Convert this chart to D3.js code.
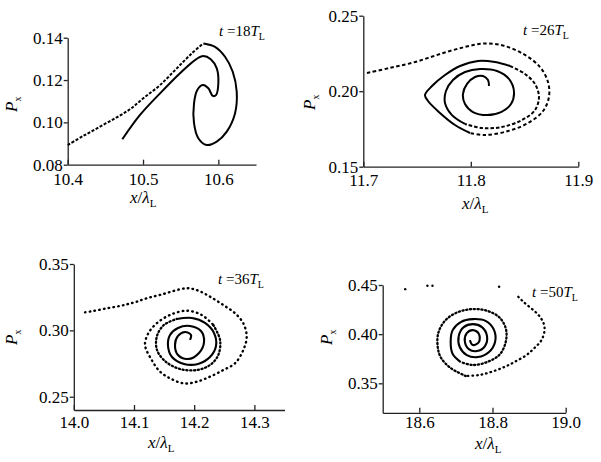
<!DOCTYPE html>
<html>
<head>
<meta charset="utf-8">
<script src="https://cdn.jsdelivr.net/npm/d3@7"></script>
<style>
body { margin: 0; background: #fff; }
text { font-family: "Liberation Serif", "Times New Roman", serif; fill: #000; }
</style>
</head>
<body>
<div id="chart"></div>
<script>
// snapshot times (in T_L)
var times = ["18", "26", "36", "50"];

// tick values
var p1XTicks = [10.4, 10.5, 10.6], p1YTicks = [0.08, 0.10, 0.12, 0.14];
var p2XTicks = [11.7, 11.8, 11.9], p2YTicks = [0.15, 0.20, 0.25];
var p3XTicks = [14.0, 14.1, 14.2, 14.3], p3YTicks = [0.25, 0.30, 0.35];
var p4XTicks = [18.6, 18.8, 19.0], p4YTicks = [0.35, 0.40, 0.45];

// t = 18 T_L : [x/lambda, Px]
var p1Arm = [[10.4,0.0893],[10.4207,0.0936],[10.4429,0.0980],[10.4651,0.1024],[10.4827,0.1062],
  [10.5004,0.1114],[10.5226,0.1176],[10.5448,0.1255],[10.5647,0.1326],[10.5801,0.1373]];
var p1Curl = [[10.5801,0.1373],[10.5956,0.1357],[10.6089,0.1310],[10.6191,0.1239],[10.6244,0.1145],
  [10.6222,0.1043],[10.6112,0.0956],[10.5979,0.0909],[10.5846,0.0893],[10.5734,0.0925],[10.5677,0.0996],
  [10.5677,0.1090],[10.5721,0.1153],[10.5793,0.1176],[10.5867,0.1161],[10.5926,0.1125],[10.5969,0.1129],
  [10.6000,0.1185],[10.5979,0.1255],[10.5899,0.1298],[10.5801,0.1313],[10.5704,0.1298],[10.5491,0.1232],
  [10.5226,0.1137],[10.4960,0.1035],[10.4725,0.0920]];

// t = 26 T_L
var p2Outer = [[11.7034,0.2121],[11.7248,0.2154],[11.7481,0.2193],[11.7713,0.2246],[11.7946,0.2293],
  [11.8132,0.2316],[11.8318,0.2299],[11.8504,0.2240],[11.8644,0.2160],[11.8718,0.2061],[11.8727,0.1962],
  [11.8672,0.1869],[11.8532,0.1789],[11.8346,0.1736],[11.8132,0.1710],[11.7993,0.1723]];
var p2Ring = [[11.7993,0.1723],[11.7853,0.1776],[11.7713,0.1856],[11.7602,0.1935],[11.7574,0.1975],
  [11.7639,0.2034],[11.7760,0.2107],[11.7900,0.2167],[11.8067,0.2200],[11.8225,0.2193],[11.8365,0.2167]];
var p2Mid = [[11.8365,0.2167],[11.8504,0.2114],[11.8597,0.2048],[11.8634,0.1962],[11.8597,0.1875],
  [11.8476,0.1809],[11.8290,0.1763],[11.8104,0.1756],[11.7946,0.1783]];
var p2Core = [[11.7946,0.1783],[11.7825,0.1842],[11.7760,0.1922],[11.7769,0.2001],[11.7834,0.2074],
  [11.7946,0.2127],[11.8086,0.2147],[11.8244,0.2134],[11.8355,0.2081],[11.8402,0.1995],[11.8374,0.1915],
  [11.8281,0.1862],[11.8151,0.1842],[11.8020,0.1862],[11.7946,0.1915],[11.7927,0.1981],[11.7965,0.2048],
  [11.8039,0.2094],[11.8113,0.2101],[11.8160,0.2074],[11.8169,0.2034]];

// t = 36 T_L
var p3Arm = [[14.0186,0.3136],[14.0324,0.3146],[14.0547,0.3166],[14.0767,0.3184],[14.0905,0.3199],
  [14.1045,0.3216],[14.1211,0.3242],[14.1432,0.3267],[14.1875,0.3317],[14.2068,0.3299],[14.2262,0.3254],
  [14.2483,0.3191],[14.2678,0.3129],[14.2816,0.3053],[14.2872,0.2952],[14.2816,0.2852],[14.2678,0.2752],
  [14.2483,0.2701],[14.2262,0.2651],[14.2042,0.2613],[14.1819,0.2601],[14.1598,0.2639],[14.1432,0.2689],
  [14.1294,0.2777],[14.1183,0.2890],[14.1238,0.2978],[14.1377,0.3053],[14.1598,0.3116],[14.1875,0.3148],
  [14.2125,0.3116],[14.2317,0.3041]];
var p3Mid = [[14.2317,0.3041],[14.2429,0.2928],[14.2400,0.2814],[14.2262,0.2739],[14.2042,0.2701],
  [14.1764,0.2709],[14.1532,0.2762],[14.1382,0.2852],[14.1382,0.2958],[14.1498,0.3041],[14.1709,0.3086]];
var p3Core = [[14.1709,0.3086],[14.1963,0.3093],[14.2179,0.3056],[14.2329,0.2980],[14.2362,0.2882],
  [14.2262,0.2799],[14.2063,0.2747],[14.1831,0.2747],[14.1631,0.2799],[14.1565,0.2882],[14.1598,0.2965],
  [14.1731,0.3018],[14.1930,0.3033],[14.2113,0.2995],[14.2163,0.2912],[14.2080,0.2830],[14.1897,0.2784],
  [14.1731,0.2814],[14.1681,0.2890],[14.1731,0.2958],[14.1847,0.2988],[14.1947,0.2965],[14.1930,0.2928]];

// t = 50 T_L
var p4Stray = [[18.5615,0.4458],[18.6222,0.4492],[18.6360,0.4492],[18.8181,0.4482]];
var p4Outer = [[18.8705,0.4380],[18.8843,0.4329],[18.9257,0.4194],[18.9394,0.4113],[18.9422,0.4041],
  [18.9339,0.3940],[18.9146,0.3859],[18.8926,0.3787],[18.8594,0.3716],[18.8319,0.3665],[18.7960,0.3615],
  [18.7629,0.3584],[18.7270,0.3574]];
var p4Ring = [[18.7270,0.3574],[18.6857,0.3655],[18.6581,0.3767],[18.6498,0.3889],[18.6526,0.4021],
  [18.6719,0.4143],[18.7050,0.4224],[18.7463,0.4255],[18.7877,0.4235],[18.8208,0.4163],[18.8374,0.4041],
  [18.8346,0.3899],[18.8181,0.3787],[18.7850,0.3716],[18.7463,0.3686],[18.7132,0.3716]];
var p4Core = [[18.7132,0.3716],[18.6912,0.3798],[18.6857,0.3920],[18.6912,0.4041],[18.7132,0.4123],
  [18.7463,0.4153],[18.7822,0.4133],[18.8043,0.4041],[18.8070,0.3920],[18.7905,0.3818],[18.7601,0.3767],
  [18.7298,0.3787],[18.7105,0.3869],[18.7077,0.3980],[18.7215,0.4072],[18.7463,0.4102],[18.7712,0.4072],
  [18.7850,0.3980],[18.7794,0.3879],[18.7574,0.3828],[18.7353,0.3848],[18.7243,0.3930],[18.7298,0.4011],
  [18.7463,0.4041],[18.7629,0.4001],[18.7629,0.3920],[18.7463,0.3889],[18.7381,0.3940]];

var panels = [
  {xd: [10.4, 10.65], yd: [0.08, 0.14], l: 67.7, r: 256, t: 37.7, b: 164.7,
   xt: p1XTicks, yt: p1YTicks, time: times[0], pad: 8,
   title: [219, 36], xlab: [130, 203], ylab: [17, 112],
   segs: [{d: p1Arm, dash: "3,1.6"}, {d: p1Curl}]},
  {xd: [11.7, 11.9], yd: [0.15, 0.25], l: 363.3, r: 578.3, t: 15.7, b: 166.7,
   xt: p2XTicks, yt: p2YTicks, time: times[1], pad: 7,
   title: [523, 35], xlab: [462, 209], ylab: [315, 110],
   segs: [{d: p2Outer, dash: "3.5,2.5"}, {d: p2Ring}, {d: p2Mid, dash: "3.5,2"}, {d: p2Core}]},
  {xd: [14.0, 14.35], yd: [0.24, 0.35], l: 73.8, r: 284.5, t: 264, b: 410,
   xt: p3XTicks, yt: p3YTicks, time: times[2], pad: 6,
   title: [218, 284], xlab: [148, 448], ylab: [17, 345],
   segs: [{d: p3Arm, dash: "0.6,4.2", w: 2.4, cap: "round"},
          {d: p3Mid, dash: "1.2,2.6", w: 2.3, cap: "round"}, {d: p3Core, w: 2.1}]},
  {xd: [18.5, 19.0], yd: [0.32, 0.45], l: 382.7, r: 565.7, t: 285, b: 412.8,
   xt: p4XTicks, yt: p4YTicks, time: times[3], pad: 3,
   title: [532, 297], xlab: [475, 449], ylab: [332, 345],
   segs: [{d: p4Outer, dash: "0.6,4", w: 2.3, cap: "round"},
          {d: p4Ring, dash: "1.2,2.6", w: 2.3, cap: "round"}, {d: p4Core, w: 2.1}],
   dots: p4Stray}
];

var svg = d3.select("#chart").append("svg")
  .attr("width", 601)
  .attr("height", 462);

panels.forEach(function(p) {
  var x = d3.scaleLinear().domain(p.xd).range([p.l, p.r]);
  var y = d3.scaleLinear().domain(p.yd).range([p.b, p.t]);

  var xAxis = d3.axisBottom(x).tickValues(p.xt).tickFormat(d3.format(".1f"))
    .tickSize(-5).tickSizeOuter(0).tickPadding(p.pad);
  var yAxis = d3.axisLeft(y).tickValues(p.yt).tickFormat(d3.format(".2f"))
    .tickSize(4).tickSizeOuter(0).tickPadding(1);

  var gx = svg.append("g").attr("transform", "translate(0," + p.b + ")").call(xAxis);
  var gy = svg.append("g").attr("transform", "translate(" + p.l + ",0)").call(yAxis);
  [gx, gy].forEach(function(g) {
    g.selectAll("path, line").attr("stroke", "#222").attr("stroke-width", 1.3);
    g.selectAll("text").style("font-size", "17px").style("font-family", "'Liberation Serif', serif");
  });

  var line = d3.line()
    .x(function(d) { return x(d[0]); })
    .y(function(d) { return y(d[1]); })
    .curve(d3.curveCatmullRom.alpha(0.5));

  p.segs.forEach(function(s) {
    svg.append("path")
      .attr("d", line(s.d))
      .attr("fill", "none")
      .attr("stroke", "#000")
      .attr("stroke-width", s.w || 2)
      .attr("stroke-linecap", s.cap || "butt")
      .attr("stroke-dasharray", s.dash || null);
  });

  if (p.dots) {
    svg.selectAll(null).data(p.dots).enter().append("circle")
      .attr("cx", function(d) { return x(d[0]); })
      .attr("cy", function(d) { return y(d[1]); })
      .attr("r", 1.2)
      .attr("fill", "#000");
  }

  // title  t = nn T_L
  var tt = svg.append("text").attr("x", p.title[0]).attr("y", p.title[1]).style("font-size", "15px");
  tt.append("tspan").style("font-style", "italic").text("t");
  tt.append("tspan").text(" =" + p.time);
  tt.append("tspan").style("font-style", "italic").text("T");
  tt.append("tspan").attr("dy", 4).style("font-size", "10px").text("L");

  // x label
  var xl = svg.append("text").attr("x", p.xlab[0]).attr("y", p.xlab[1]).style("font-size", "17px");
  xl.append("tspan").style("font-style", "italic").text("x");
  xl.append("tspan").text("/");
  xl.append("tspan").style("font-style", "italic").text("λ");
  xl.append("tspan").attr("dy", 4).style("font-size", "11px").text("L");

  // y label
  var yl = svg.append("text")
    .attr("transform", "translate(" + p.ylab[0] + "," + p.ylab[1] + ") rotate(-90)")
    .style("font-size", "17px");
  yl.append("tspan").style("font-style", "italic").text("P");
  yl.append("tspan").attr("dy", 4).style("font-size", "10px").text("x");
});
</script>
</body>
</html>
